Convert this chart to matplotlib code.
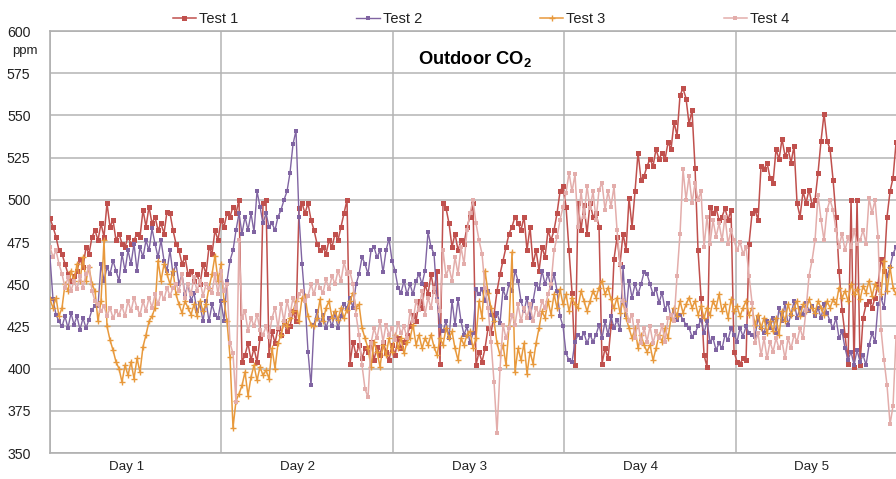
import numpy as np
import matplotlib
matplotlib.use("Agg")
import matplotlib.pyplot as plt

plt.rcParams['font.family'] = ['Liberation Sans', 'DejaVu Sans']
plt.rcParams['mathtext.fontset'] = 'custom'
plt.rcParams['mathtext.bf'] = 'Liberation Sans:bold'
plt.rcParams['mathtext.rm'] = 'Liberation Sans'

day_labels = ["Day 1", "Day 2", "Day 3", "Day 4", "Day 5"]
y_ticks = [350, 375, 400, 425, 450, 475, 500, 525, 550, 575, 600]
samples_per_day = 57.13

test1 = [
    489,484,478,470,468,462,456,452,455,458,465,460,472,468,478,482,476,486,478,498,
    484,488,476,480,474,472,478,474,476,480,478,494,484,496,486,490,482,486,480,493,
    492,482,474,470,462,466,456,458,452,456,450,462,456,472,468,482,476,488,484,492,
    490,496,492,500,404,408,415,405,412,404,418,498,500,408,422,415,424,420,428,422,
    425,434,428,495,498,492,498,488,482,474,470,472,468,476,472,480,476,484,492,500,
    403,416,408,414,406,412,410,416,405,413,408,416,410,405,414,408,418,412,416,420,
    425,432,428,440,436,450,444,456,446,458,403,498,495,486,472,480,470,476,474,484,
    490,498,402,410,404,412,424,421,432,446,456,464,472,480,484,490,486,482,490,470,
    484,462,470,458,472,466,482,476,482,492,505,508,496,470,445,402,498,482,497,480,
    498,490,492,484,403,412,406,425,465,478,462,480,470,501,484,505,528,512,514,520,
    524,520,530,524,528,524,534,530,546,538,562,566,560,545,553,519,470,442,408,401,
    496,492,495,488,490,495,488,494,410,404,403,406,405,474,492,494,488,520,518,522,
    513,510,530,524,536,526,530,522,532,498,490,505,498,506,497,500,516,535,551,535,
    530,512,490,458,435,420,403,500,401,500,402,430,438,440,436,442,450,465,458,490,
    505,513,534]
test2 = [
    466,441,432,428,425,431,424,433,426,431,423,430,424,429,435,437,437,462,452,460,
    456,464,458,452,468,458,470,462,474,458,472,466,476,470,483,474,466,476,464,458,
    470,456,462,450,456,444,450,440,445,434,438,428,440,428,438,432,430,440,428,452,
    464,470,482,492,480,490,482,492,481,505,496,486,492,484,486,482,490,494,500,505,
    516,533,541,490,462,440,410,390,426,434,426,432,424,430,425,433,424,431,438,436,
    442,436,450,456,466,462,456,470,472,466,470,457,470,477,464,458,448,445,452,444,
    450,444,452,456,450,458,481,472,468,441,425,422,428,418,440,426,441,428,420,425,
    415,421,447,444,447,440,446,432,428,433,427,447,442,450,446,458,452,440,434,442,
    430,440,450,447,458,450,456,448,456,446,431,425,409,405,404,416,420,418,421,415,
    420,416,420,426,418,428,420,431,424,429,423,460,432,452,442,450,444,450,457,456,
    450,444,447,439,445,435,439,430,434,429,432,429,426,424,419,421,425,429,421,428,
    416,418,411,415,412,420,417,424,420,416,424,419,425,421,420,419,430,424,421,428,
    424,430,421,436,428,439,426,432,440,430,436,432,439,434,437,431,436,430,438,433,
    428,424,430,418,422,412,405,410,402,411,404,408,402,414,421,416,438,442,436,455,
    460,468,472]
test3 = [
    441,436,442,431,436,450,446,458,452,462,452,466,452,460,450,446,428,440,476,425,
    417,411,404,400,392,402,396,404,394,406,398,413,420,428,431,436,464,452,462,456,
    450,458,444,438,433,440,436,432,438,431,440,434,438,448,456,467,452,462,440,428,
    407,365,381,385,390,398,384,395,402,393,401,396,399,394,412,400,415,420,428,425,
    430,434,440,428,442,443,431,426,425,430,441,428,436,440,430,434,429,436,430,435,
    440,445,436,438,424,418,412,401,416,410,401,414,408,418,410,420,412,418,409,416,
    418,426,414,420,412,418,414,420,413,408,418,414,424,418,422,412,405,418,414,420,
    422,412,418,440,430,458,445,436,428,415,408,414,402,425,469,398,412,405,415,397,
    410,403,415,424,434,430,440,432,444,436,447,438,444,434,442,438,436,446,440,434,
    440,446,442,448,452,444,448,441,436,442,433,440,430,424,418,424,412,420,414,410,
    414,405,412,420,416,424,418,430,436,431,440,433,438,442,436,440,432,437,430,436,
    432,440,436,444,434,438,430,441,434,437,431,436,440,432,436,426,432,424,430,421,
    428,422,430,420,434,428,438,432,436,440,431,438,434,441,436,433,440,436,432,440,
    436,441,438,448,442,446,440,450,444,447,441,449,445,452,443,450,447,444,464,446,
    460,448,444]
test4 = [
    472,466,470,462,456,448,454,446,452,447,455,448,456,460,446,440,438,434,437,431,
    436,430,434,432,437,431,440,434,442,436,432,440,434,442,436,444,438,445,441,448,
    443,448,450,446,456,442,450,444,454,446,452,443,450,448,445,456,444,458,446,450,
    415,409,380,476,430,434,422,430,425,432,423,420,425,419,430,436,424,438,428,440,
    432,442,436,444,446,440,443,450,444,452,448,445,453,447,455,450,458,452,463,456,
    457,450,432,420,402,388,383,415,424,418,428,416,426,420,424,417,427,421,425,418,
    434,428,440,435,446,432,442,436,448,440,434,470,455,460,452,466,456,472,462,482,
    492,500,486,476,468,448,436,416,392,362,400,426,418,424,432,426,438,428,436,430,
    438,428,436,432,440,436,444,450,470,478,488,496,504,516,505,515,484,505,490,508,
    495,505,488,506,510,494,505,496,508,482,462,440,435,428,432,418,428,415,424,416,
    425,415,422,418,426,416,430,432,428,455,480,518,500,514,498,510,500,505,472,490,
    474,488,478,486,476,490,474,482,476,470,475,468,472,455,439,415,421,408,418,406,
    416,410,418,412,416,406,418,412,420,416,424,418,435,455,464,476,503,488,476,494,
    500,494,482,472,480,470,478,472,482,474,476,482,474,501,492,500,478,423,405,390,
    367,378,419]

series = [("Test 1", test1, "#c0504d", 's', 3.6, 1.1, 0),
          ("Test 2", test2, "#8064a2", 's', 2.4, 1.0, 0),
          ("Test 3", test3, "#e8993c", '+', 4.0, 1.1, 1.0),
          ("Test 4", test4, "#e3adab", 's', 3.0, 1.1, 0)]

W, H = 896, 479
fig = plt.figure(figsize=(W/100, H/100), dpi=100)
ax = fig.add_axes([50/W, (H-453)/H, (W-50)/W, (453-31)/H])

for name, vals, col, mk, ms, lw, mew in series:
    x = np.arange(len(vals)) / samples_per_day
    ax.plot(x, vals, color=col, lw=lw, marker=mk, ms=ms, mew=mew, label=name, zorder=3)

n_days = len(day_labels)
ax.set_yticks(y_ticks)
ax.set_xticks(np.arange(n_days) + 0.445)
ax.set_xticklabels(day_labels, fontsize=9.6)
ax.set_xticks(np.arange(0, n_days + 1), minor=True)
ax.set_xlim(0, (W-50)/171.4)
ax.set_ylim(350, 600)
ax.tick_params(axis='both', which='both', length=0, colors='#222222')
ax.tick_params(axis='y', labelsize=10.2, pad=14)
ax.tick_params(axis='x', pad=6)
ax.grid(axis='y', color='#b4b4b4', lw=1.1)
ax.grid(axis='x', which='minor', color='#b4b4b4', lw=1.1)
ax.set_axisbelow(True)
for s in ('left', 'top', 'bottom'):
    ax.spines[s].set_color('#b0b0b0')
    ax.spines[s].set_linewidth(1.2)
ax.spines['right'].set_visible(False)

fig.text(12/W, 1-51/H, "ppm", fontsize=9.5, color='#222222', va='center', ha='left')
fig.text(475/W, 1-59/H, r"Outdoor CO$\mathbf{_2}$", fontsize=13.2, fontweight='bold',
         color='black', ha='center', va='center')

leg = fig.legend(loc='center', bbox_to_anchor=(481/W, 1-19/H), ncol=4, frameon=False,
                 fontsize=10.5, columnspacing=8.1, handlelength=1.6, handletextpad=0.2,
                 borderpad=0, labelcolor='#222222')
fig.savefig("out.png", dpi=100)
